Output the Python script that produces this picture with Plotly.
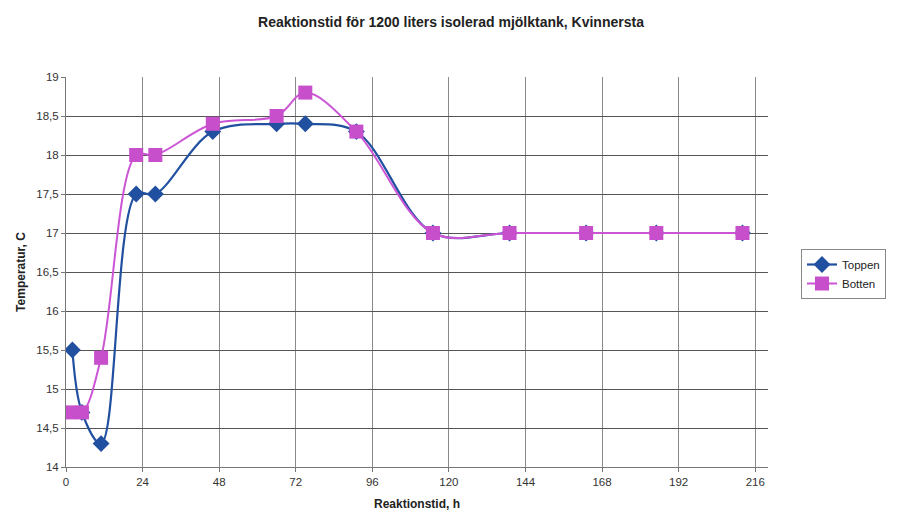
import plotly.graph_objects as go

# Data
toppen_x = [2, 5, 11, 22, 28, 46, 66, 75, 91, 115, 139, 163, 185, 212]
toppen_y = [15.5, 14.7, 14.3, 17.5, 17.5, 18.3, 18.4, 18.4, 18.3, 17.0, 17.0, 17.0, 17.0, 17.0]
botten_x = [1, 5, 11, 22, 28, 46, 66, 75, 91, 115, 139, 163, 185, 212]
botten_y = [14.7, 14.7, 15.4, 18.0, 18.0, 18.4, 18.5, 18.8, 18.3, 17.0, 17.0, 17.0, 17.0, 17.0]
x_ticks = [0, 24, 48, 72, 96, 120, 144, 168, 192, 216]
y_ticks = [14, 14.5, 15, 15.5, 16, 16.5, 17, 17.5, 18, 18.5, 19]

title_text = "Reaktionstid för 1200 liters isolerad mjölktank, Kvinnersta"
x_title = "Reaktionstid, h"
y_title = "Temperatur, C"

fig = go.Figure()
fig.add_trace(go.Scatter(
    x=toppen_x, y=toppen_y, name="Toppen", mode="lines+markers",
    line=dict(color="#2150A0", width=2.2, shape="spline", smoothing=1.0),
    marker=dict(symbol="diamond", size=13, color="#2150A0"),
))
fig.add_trace(go.Scatter(
    x=botten_x, y=botten_y, name="Botten", mode="lines+markers",
    line=dict(color="#CC55D6", width=2, shape="spline", smoothing=1.0),
    marker=dict(symbol="square", size=14, color="#C84FCC"),
))

# hide the top horizontal gridline (not drawn in the original)
fig.add_shape(type="line", xref="x", yref="y", x0=0.4, x1=220, y0=19, y1=19,
              line=dict(color="white", width=2), layer="below")

PW = 902 - 66 - 134
PH = 511 - 77 - 44
fig.update_layout(
    width=902, height=511,
    paper_bgcolor="white", plot_bgcolor="white",
    margin=dict(l=66, r=134, t=77, b=44),
    separators=", ",
    font=dict(family="Arial, Liberation Sans, sans-serif", color="#333333", size=11.5),
    title=dict(text="<b>" + title_text + "</b>", x=0.5, xanchor="center",
               y=1 - 22 / 511, yanchor="middle",
               font=dict(size=14, color="#222222")),
    showlegend=True,
    legend=dict(x=(801 - 66) / PW, y=(467 - 249) / PH, yanchor="top",
                bordercolor="#888888", borderwidth=1, bgcolor="white",
                font=dict(size=11.5, color="#222222"), tracegroupgap=2),
)

fig.update_xaxes(
    range=[0, 220], tickvals=x_ticks, ticktext=[str(v) for v in x_ticks],
    showgrid=True, gridcolor="#8a8a8a", gridwidth=1,
    showline=True, linecolor="#777777", linewidth=1,
    ticks="outside", ticklen=4, tickcolor="#777777",
    zeroline=False, automargin=False,
    title=dict(text="<b>" + x_title + "</b>", font=dict(size=12, color="#222222"), standoff=14),
)
fig.update_yaxes(
    range=[14, 19], tickvals=y_ticks,
    showgrid=True, gridcolor="#555555", gridwidth=1,
    showline=True, linecolor="#777777", linewidth=1,
    ticks="outside", ticklen=4, tickcolor="#777777",
    zeroline=False, automargin=False,
    title=dict(text="<b>" + y_title + "</b>", font=dict(size=12, color="#222222"), standoff=8),
)

fig.write_html("out.html")
